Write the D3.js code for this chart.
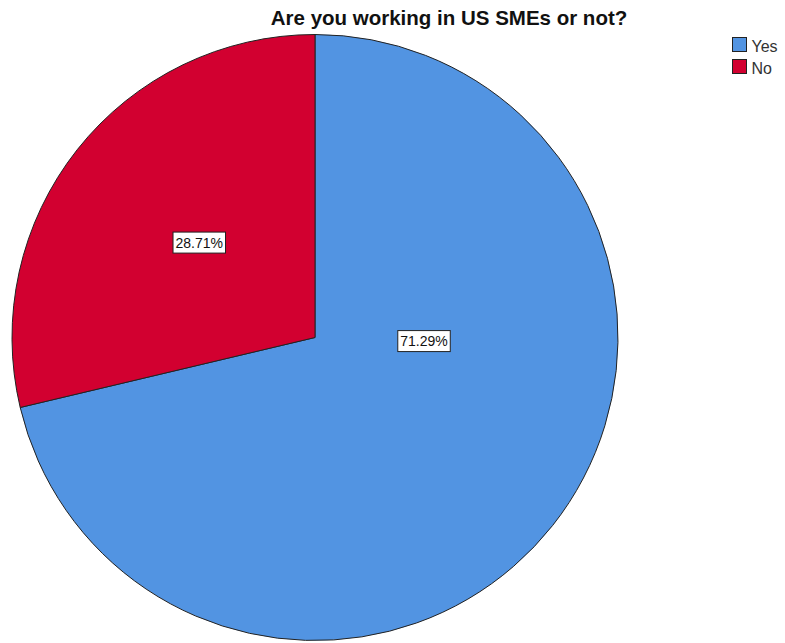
<!DOCTYPE html>
<html>
<head>
<meta charset="utf-8">
<script src="https://cdn.jsdelivr.net/npm/d3@7"></script>
<style>
  html, body { margin: 0; padding: 0; background: #fff; }
  svg { display: block; }
</style>
</head>
<body>
<svg id="chart" width="785" height="643"></svg>
<script>
// Survey answers and their shares (percent)
const categories = ["Yes", "No"];
const shares = [71.29, 28.71];
const colors = ["#5294e2", "#d20030"];
// Where each value label sits: angle within its slice (0..1) and radius fraction
const labelAngleFrac = [0.358, 0.51];
const labelRadiusFrac = [0.36, 0.494];

const title = "Are you working in US SMEs or not?";

const svg = d3.select("#chart");
const cx = 315, cy = 337.5, R = 303;

svg.append("text")
  .attr("x", 449).attr("y", 25)
  .attr("text-anchor", "middle")
  .attr("font-family", "Liberation Sans, Arial, sans-serif")
  .attr("font-weight", "bold")
  .attr("font-size", 20.5)
  .attr("fill", "#111")
  .text(title);

const data = categories.map((c, i) => ({ cat: c, value: shares[i], color: colors[i], i }));

const pie = d3.pie().sort(null).value(d => d.value);
const arcs = pie(data);
const arc = d3.arc().innerRadius(0).outerRadius(R);

const g = svg.append("g").attr("transform", `translate(${cx},${cy})`);

g.selectAll("path.slice")
  .data(arcs)
  .join("path")
  .attr("class", "slice")
  .attr("d", arc)
  .attr("fill", d => d.data.color)
  .attr("stroke", "#222")
  .attr("stroke-width", 1);

// value labels in white boxes
const labels = g.selectAll("g.lbl")
  .data(arcs)
  .join("g")
  .attr("class", "lbl")
  .attr("transform", d => {
    const i = d.data.i;
    const a = d.startAngle + (d.endAngle - d.startAngle) * labelAngleFrac[i];
    const r = R * labelRadiusFrac[i];
    return `translate(${r * Math.sin(a)},${-r * Math.cos(a)})`;
  });

labels.each(function(d) {
  const sel = d3.select(this);
  const t = sel.append("text")
    .attr("text-anchor", "middle")
    .attr("dy", "0.36em")
    .attr("font-family", "Liberation Sans, Arial, sans-serif")
    .attr("font-size", 14)
    .attr("fill", "#111")
    .text(d3.format(".2f")(d.data.value) + "%");
  const bb = t.node().getBBox();
  sel.insert("rect", "text")
    .attr("x", bb.x - 2.5).attr("y", -10.5)
    .attr("width", bb.width + 5).attr("height", 21)
    .attr("fill", "#fff")
    .attr("stroke", "#222")
    .attr("stroke-width", 1);
});

// legend
const legend = svg.append("g").attr("transform", "translate(732.5,37.5)");
const items = legend.selectAll("g")
  .data(data)
  .join("g")
  .attr("transform", (d, i) => `translate(0,${i * 22})`);
items.append("rect")
  .attr("width", 14).attr("height", 14)
  .attr("fill", d => d.color)
  .attr("stroke", "#222")
  .attr("stroke-width", 1);
items.append("text")
  .attr("x", 19).attr("y", 14)
  .attr("font-family", "Liberation Sans, Arial, sans-serif")
  .attr("font-size", 16)
  .attr("fill", "#333")
  .text(d => d.cat);
</script>
</body>
</html>
